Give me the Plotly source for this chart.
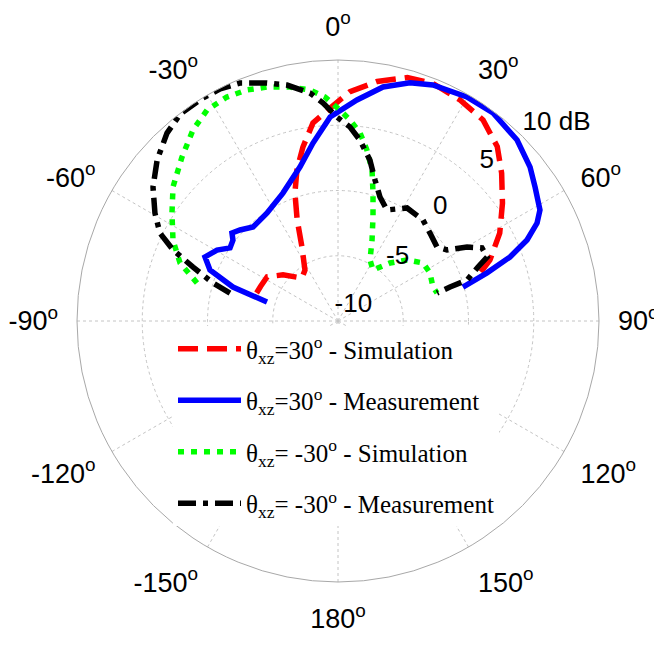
import plotly.graph_objects as go

# ---- data (theta in degrees, clockwise from top; r in dB) ----
theta_sim_p30 = [-71, -66, -58, -50, -40, -33, -26, -22, -18.6, -15.2, -11.4, -7.2, -2.7, 3,
                 9.3, 15.9, 21.8, 28.9, 35.8, 42.4, 47.9, 54.4, 61.5, 68.1, 72]
r_sim_p30 = [-3.4, -3.5, -3.6, -4.5, -5.7, -5.35, -3.7, -1.65, 0.35, 2.0, 3.6, 5.3, 6.2, 7.6,
             8.6, 9.4, 9.6, 9.35, 9.0, 8.1, 6.9, 5.5, 4.1, 2.55, 1.3]

theta_meas_p30 = [-75.0, -72.1, -68.3, -64.3, -59.6, -55.9, -52.4, -50.3, -47.1, -42.1, -33.3,
                  -23.3, -13.9, -8.0, -2.2, 4.9, 10.9, 16.8, 21.9, 29.9, 36.7, 44.7, 51.3,
                  55.8, 61.2, 63.8, 66.8, 69.6, 72.1, 74.8]
r_meas_p30 = [-4.37, -1.54, 0.56, 1.31, 0.75, -0.01, 0.16, 0.56, 0.25, -0.29, -0.1,
              0.67, 2.15, 3.77, 5.65, 7.0, 8.26, 9.06, 9.49, 9.81, 9.88, 9.51, 8.86,
              8.26, 7.66, 7.0, 5.76, 4.06, 2.0, -0.08]

theta_sim_m30 = [-74.9, -69.8, -63.9, -57.0, -50.9, -43.6, -37.2, -31.8, -26.4, -21.5, -16.9,
                 -11.6, -6.9, -3.3, 0.5, 3.4, 6.7, 9.6, 12.7, 15.3, 18.6, 22.8, 27.7, 34.5,
                 41.9, 48.5, 55.7, 62.4, 70.3, 74.2]
r_sim_m30 = [1.19, 2.9, 4.08, 5.17, 6.29, 7.34, 8.38, 9.03, 9.16, 9.03, 8.74,
             8.3, 7.83, 7.19, 6.17, 5.43, 4.5, 3.29, 1.86, 0.17, -1.59, -3.27, -4.72, -5.26,
             -4.03, -2.94, -2.11, -2.05, -2.27, -2.11]

theta_meas_m30 = [-75.5, -73.1, -69.6, -66.7, -63.7, -59.5, -54.1, -48.3, -42.3, -37.2, -31.6,
                  -26.9, -22.4, -16.6, -12.2, -7.0, -3.9, -0.3, 3.5, 6.9, 11.2, 14.7, 18.7,
                  23.8, 31.4, 40.1, 46.3, 53.2, 56.9, 60.2, 63.1, 66.8, 68.9, 72.4, 73.1, 74.2]
r_meas_m30 = [-1.45, 0.01, 1.85, 3.76, 5.22, 6.28, 7.5, 8.56, 9.47, 9.95, 9.98,
              9.95, 9.72, 9.03, 8.5, 7.6, 6.74, 5.63, 4.9, 3.97, 2.58, 1.17, 0.03,
              -0.7, 0.15, 0.11, -0.25, -0.53, -0.03, 1.4, 2.37, 2.43, 1.5, 0.37, -1.03, -2.11]

angle_ticks = [0, 30, 60, 90, 120, 150, 180, 210, 240, 270, 300, 330]
angle_labels = ["0<sup>o</sup>", "30<sup>o</sup>", "60<sup>o</sup>", "90<sup>o</sup>",
                "120<sup>o</sup>", "150<sup>o</sup>", "180<sup>o</sup>", "-150<sup>o</sup>",
                "-120<sup>o</sup>", "-90<sup>o</sup>", "-60<sup>o</sup>", "-30<sup>o</sup>"]
radial_ticks = [-10, -5, 0, 5, 10]
radial_labels = ["-10", "-5", "0", "5", "10 dB"]

series_names = ["θ<sub>xz</sub>=30<sup>o</sup> - Simulation",
                "θ<sub>xz</sub>=30<sup>o</sup> - Measurement",
                "θ<sub>xz</sub>= -30<sup>o</sup> - Simulation",
                "θ<sub>xz</sub>= -30<sup>o</sup> - Measurement"]

fig = go.Figure()
fig.add_trace(go.Scatterpolar(r=r_sim_p30, theta=theta_sim_p30, mode="lines", name=series_names[0],
                              legendgroup="a",
                              line=dict(color="#ff0000", width=5.5, dash="20px,9px")))
fig.add_trace(go.Scatterpolar(r=r_meas_p30, theta=theta_meas_p30, mode="lines", name=series_names[1],
                              legendgroup="b",
                              line=dict(color="#0000ff", width=5.5)))
fig.add_trace(go.Scatterpolar(r=r_sim_m30, theta=theta_sim_m30, mode="lines", name=series_names[2],
                              legendgroup="c",
                              line=dict(color="#00ff00", width=5.5, dash="6px,7px")))
fig.add_trace(go.Scatterpolar(r=r_meas_m30, theta=theta_meas_m30, mode="lines", name=series_names[3],
                              legendgroup="d",
                              line=dict(color="#000000", width=5.5, dash="18px,7px,5px,7px")))

# radial tick labels, placed along a ray like the original (outer one sits at the rim)
fig.add_trace(go.Scatterpolar(r=[t + 1.7 for t in radial_ticks[:-1]] + [radial_ticks[-1]],
                              theta=[44, 43, 42, 43, 45],
                              mode="text", text=radial_labels,
                              textposition=["middle center"] * 4 + ["top right"],
                              textfont=dict(family="Liberation Sans, Arial", size=26, color="black"),
                              cliponaxis=False, showlegend=False, hoverinfo="skip"))

fig.update_layout(
    width=662, height=645,
    margin=dict(l=69, r=71, t=52, b=71),
    paper_bgcolor="white",
    plot_bgcolor="white",
    polar=dict(
        bgcolor="white",
        domain=dict(x=[0, 1], y=[0, 1]),
        angularaxis=dict(rotation=90, direction="clockwise", tickmode="array",
                         tickvals=angle_ticks, ticktext=angle_labels,
                         showline=True, linecolor="#a8a8a8", linewidth=1,
                         gridcolor="#c4c4c4", griddash="dot", gridwidth=1,
                         ticks="outside", ticklen=13, tickcolor="rgba(0,0,0,0)",
                         tickfont=dict(family="Liberation Sans, Arial", size=27, color="black")),
        radialaxis=dict(range=[-10, 10], tickvals=radial_ticks[1:-1], showticklabels=False,
                        showline=False, ticks="", gridcolor="#c4c4c4", griddash="dot", gridwidth=1),
    ),
    showlegend=True,
    legend=dict(x=(165 - 69) / 522, y=1 - (318 - 52) / 522, xanchor="left", yanchor="top",
                bgcolor="white", borderwidth=0, itemwidth=63, tracegroupgap=16,
                font=dict(family="Liberation Serif, Times New Roman", size=25, color="black")),
)

fig.write_html("out.html")
